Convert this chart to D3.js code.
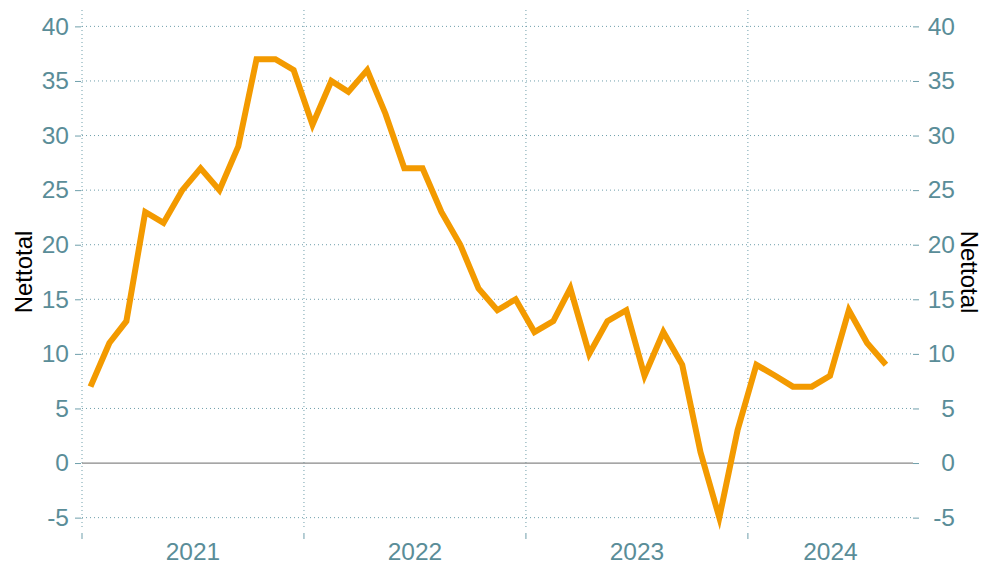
<!DOCTYPE html>
<html>
<head>
<meta charset="utf-8">
<script src="https://cdn.jsdelivr.net/npm/d3@7"></script>
<style>
  body { margin: 0; background: #fff; }
  svg { display: block; font-family: "Liberation Sans", Arial, sans-serif; }
</style>
</head>
<body>
<div class="container"></div>
<script>
const WIDTH = 985;
const HEIGHT = 565;

const LEFT = 82;
const RIGHT = 920;
const TOP = 10;
const BOTTOM = 532;

const FONT_SIZE = 24.5;
const TEXT_COLOR = "#5a8d98";
const GRID_COLOR = "#6f9fab";
const LINE_COLOR = "#f39a00";

// monthly values, Jan 2021 .. Aug 2024
const startYear = 2021;
const values = [
  7, 11, 13, 23, 22, 25, 27, 25, 29, 37, 37, 36,
  31, 35, 34, 36, 32, 27, 27, 23, 20, 16, 14, 15,
  12, 13, 16, 10, 13, 14, 8, 12, 9, 1, -5, 3,
  9, 8, 7, 7, 8, 14, 11, 9
];
const yTicks = [-5, 0, 5, 10, 15, 20, 25, 30, 35, 40];
const yearLabels = ["2021", "2022", "2023", "2024"];
const axisTitle = "Nettotal";

const points = values.map(function(v, i) {
  return { date: new Date(startYear, i, 15), value: v };
});

const xScale = d3.scaleTime()
  .domain([new Date(2021, 0, 1), new Date(2024, 9, 10)])
  .range([LEFT, RIGHT]);

const yScale = d3.scaleLinear()
  .domain([-6.5, 41.5])
  .range([BOTTOM + 2, TOP]);

const svg = d3.select(".container").append("svg")
  .attr("width", WIDTH)
  .attr("height", HEIGHT);

const yearStarts = yearLabels.map(function(y) { return new Date(+y, 0, 1); });

// horizontal grid
svg.append("g").selectAll("line")
  .data(yTicks.filter(function(t) { return t !== 0; }))
  .enter().append("line")
  .attr("x1", LEFT).attr("x2", RIGHT - 7)
  .attr("y1", function(d) { return yScale(d); })
  .attr("y2", function(d) { return yScale(d); })
  .attr("stroke", GRID_COLOR)
  .attr("stroke-width", 1)
  .attr("stroke-dasharray", "1,3");

// vertical grid at year boundaries
svg.append("g").selectAll("line")
  .data(yearStarts)
  .enter().append("line")
  .attr("x1", function(d) { return xScale(d); })
  .attr("x2", function(d) { return xScale(d); })
  .attr("y1", TOP).attr("y2", BOTTOM - 2)
  .attr("stroke", GRID_COLOR)
  .attr("stroke-width", 1)
  .attr("stroke-dasharray", "1,3");

// bottom ticks
svg.append("g").selectAll("line")
  .data(yearStarts)
  .enter().append("line")
  .attr("x1", function(d) { return xScale(d); })
  .attr("x2", function(d) { return xScale(d); })
  .attr("y1", BOTTOM + 1).attr("y2", BOTTOM + 7)
  .attr("stroke", GRID_COLOR)
  .attr("stroke-width", 1);

// zero line
svg.append("line")
  .attr("x1", LEFT).attr("x2", RIGHT - 7)
  .attr("y1", yScale(0)).attr("y2", yScale(0))
  .attr("stroke", "#888")
  .attr("stroke-width", 1.2);

const fmt = function(d) { return String(d); };

// left axis
const yAxisLeft = d3.axisLeft(yScale).tickValues(yTicks).tickFormat(fmt).tickSize(6).tickPadding(6);
const gl = svg.append("g").attr("transform", "translate(" + (LEFT - 1) + ",0)").call(yAxisLeft);
gl.select(".domain").remove();
gl.selectAll(".tick line").attr("stroke", GRID_COLOR);
gl.selectAll(".tick text").attr("fill", TEXT_COLOR).attr("font-size", FONT_SIZE)
  .attr("font-family", "Liberation Sans, Arial, sans-serif");

// right axis, labels right-aligned
const yAxisRight = d3.axisRight(yScale).tickValues(yTicks).tickFormat(fmt).tickSize(6);
const gr = svg.append("g").attr("transform", "translate(" + (RIGHT - 7) + ",0)").call(yAxisRight);
gr.select(".domain").remove();
gr.selectAll(".tick line").attr("stroke", GRID_COLOR);
gr.selectAll(".tick text").attr("fill", TEXT_COLOR).attr("font-size", FONT_SIZE)
  .attr("font-family", "Liberation Sans, Arial, sans-serif")
  .attr("text-anchor", "end")
  .attr("x", 955 - (RIGHT - 7));

// year labels, centred on each year's visible span
svg.append("g").selectAll("text")
  .data(yearStarts)
  .enter().append("text")
  .attr("x", function(d) {
    const end = new Date(d.getFullYear() + 1, 0, 1);
    const x1 = Math.min(xScale(end), RIGHT - 7);
    return (xScale(d) + x1) / 2;
  })
  .attr("y", 560)
  .attr("text-anchor", "middle")
  .attr("fill", TEXT_COLOR)
  .attr("font-size", FONT_SIZE)
  .text(function(d, i) { return yearLabels[i]; });

// axis titles
svg.append("text")
  .attr("transform", "translate(32,272) rotate(-90)")
  .attr("text-anchor", "middle")
  .attr("font-size", 24)
  .attr("fill", "#000")
  .text(axisTitle);

svg.append("text")
  .attr("transform", "translate(961,272) rotate(90)")
  .attr("text-anchor", "middle")
  .attr("font-size", 24)
  .attr("fill", "#000")
  .text(axisTitle);

// the series
const line = d3.line()
  .x(function(d) { return xScale(d.date); })
  .y(function(d) { return yScale(d.value); });

svg.append("path")
  .datum(points)
  .attr("d", line)
  .attr("fill", "none")
  .attr("stroke", LINE_COLOR)
  .attr("stroke-width", 6)
  .attr("stroke-linejoin", "miter")
  .attr("stroke-miterlimit", 10);
</script>
</body>
</html>
